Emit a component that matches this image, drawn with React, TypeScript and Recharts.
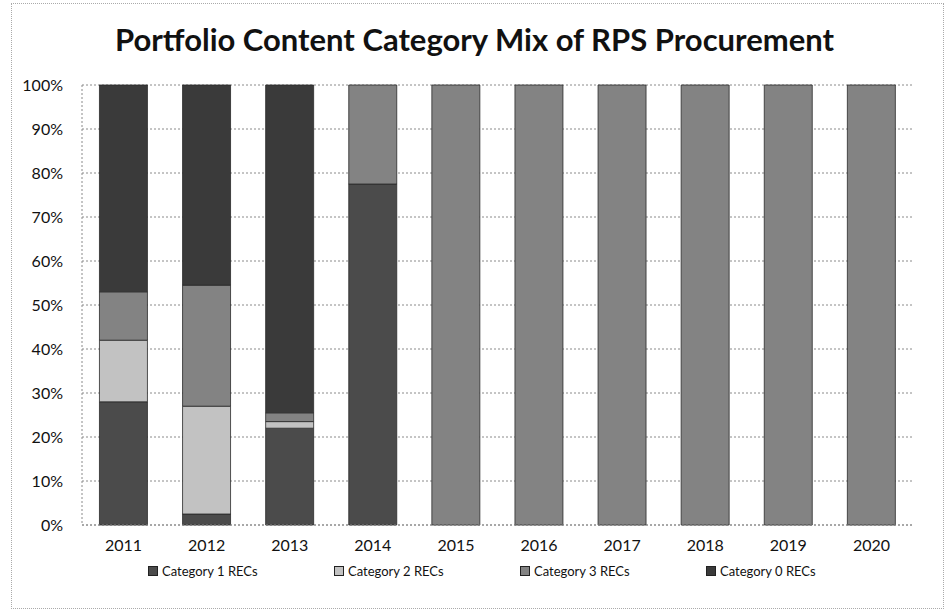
import { BarChart, Bar, XAxis, YAxis, CartesianGrid } from "recharts";

const years = ["2011", "2012", "2013", "2014", "2015", "2016", "2017", "2018", "2019", "2020"];
// share of procurement per category, percent, bottom to top
const cat1 = [28, 2.5, 22, 77.5, 0, 0, 0, 0, 0, 0];
const cat2 = [14, 24.5, 1.5, 0, 0, 0, 0, 0, 0, 0];
const cat3 = [11, 27.5, 2, 22.5, 100, 100, 100, 100, 100, 100];
const cat0 = [47, 45.5, 74.5, 0, 0, 0, 0, 0, 0, 0];
const yTicks = [0, 10, 20, 30, 40, 50, 60, 70, 80, 90, 100];

const series = [
  { key: "cat1", name: "Category 1 RECs", color: "#4b4b4b" },
  { key: "cat2", name: "Category 2 RECs", color: "#c2c2c2" },
  { key: "cat3", name: "Category 3 RECs", color: "#838383" },
  { key: "cat0", name: "Category 0 RECs", color: "#3a3a3a" },
];

const data = years.map((y, i) => ({
  year: y,
  cat1: cat1[i],
  cat2: cat2[i],
  cat3: cat3[i],
  cat0: cat0[i],
}));

const font = "Lato, 'Open Sans', sans-serif";

export default function App() {
  return (
    <div
      style={{
        position: "absolute",
        left: 0,
        top: 0,
        width: 949,
        height: 613,
        background: "#fff",
        fontFamily: font,
        overflow: "hidden",
      }}
    >
      {/* faint scanned frame */}
      <div
        style={{
          position: "absolute",
          left: 11,
          top: 3,
          width: 933,
          height: 606,
          border: "1px dotted #aaa",
          boxSizing: "border-box",
        }}
      />
      <div
        style={{
          position: "absolute",
          left: 0,
          top: 20,
          width: 949,
          textAlign: "center",
          fontSize: 31,
          fontWeight: 700,
          color: "#111",
        }}
      >
        Portfolio Content Category Mix of RPS Procurement
      </div>
      <div style={{ position: "absolute", left: 0, top: 0 }}>
        <BarChart
          width={949}
          height={613}
          data={data}
          margin={{ top: 85, right: 36, bottom: 58, left: 0 }}
          barCategoryGap="21%"
        >
          <CartesianGrid vertical={false} stroke="#8a8a8a" strokeDasharray="2 2" />
          <XAxis
            dataKey="year"
            height={30}
            tickLine={false}
            axisLine={{ stroke: "#8a8a8a", strokeDasharray: "2 2" }}
            tickSize={0}
            tickMargin={15}
            tick={{ fill: "#111", fontSize: 16, fontFamily: font }}
          />
          <YAxis
            width={82}
            domain={[0, 100]}
            ticks={yTicks}
            interval={0}
            tickFormatter={(v: number) => `${v}%`}
            tickLine={false}
            axisLine={{ stroke: "#8a8a8a", strokeDasharray: "2 2" }}
            tickSize={0}
            tickMargin={19}
            tick={{ fill: "#111", fontSize: 16, fontFamily: font }}
          />
          {series.map((s) => (
            <Bar
              key={s.key}
              dataKey={s.key}
              name={s.name}
              stackId="a"
              fill={s.color}
              stroke="#2a2a2a"
              strokeWidth={0.8}
              isAnimationActive={false}
            />
          ))}
        </BarChart>
      </div>
      <div
        style={{
          position: "absolute",
          left: 148,
          top: 563,
          display: "flex",
          fontSize: 13,
          color: "#111",
        }}
      >
        {series.map((s) => (
          <div key={s.key} style={{ width: 186, display: "flex", alignItems: "center" }}>
            <span
              style={{
                display: "inline-block",
                width: 8,
                height: 8,
                background: s.color,
                border: "1px solid #222",
                marginRight: 4,
              }}
            />
            {s.name}
          </div>
        ))}
      </div>
    </div>
  );
}
